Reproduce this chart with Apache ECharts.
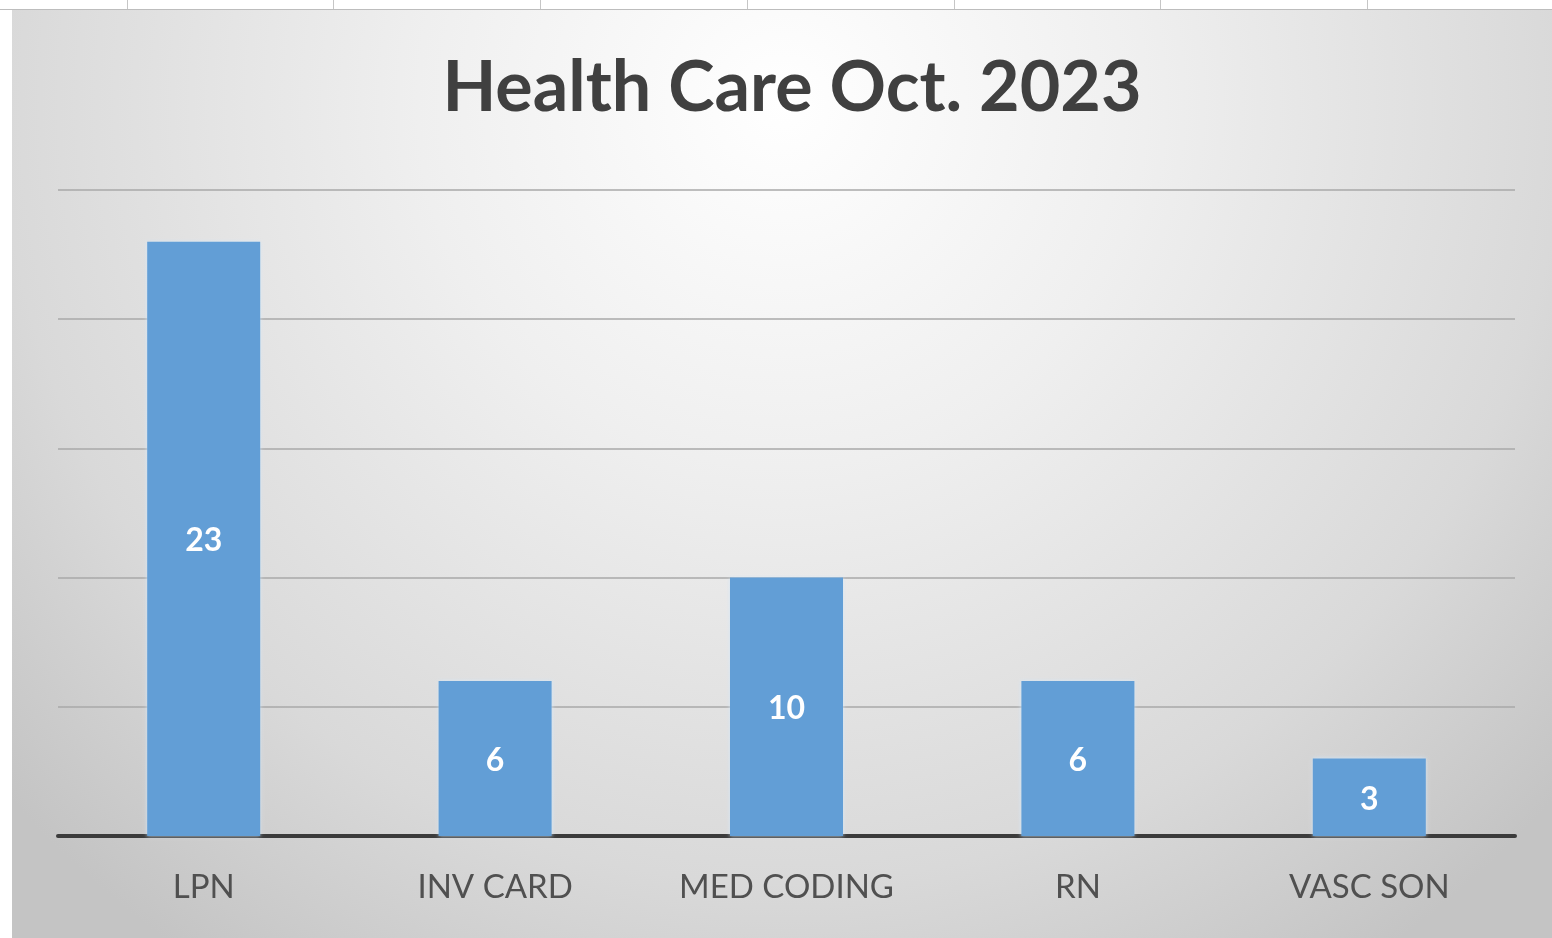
<!DOCTYPE html>
<html>
<head>
<meta charset="utf-8">
<title>Health Care Oct. 2023</title>
<script src="https://cdn.jsdelivr.net/npm/echarts@6/dist/echarts.min.js"></script>
<style>
  html, body { margin: 0; padding: 0; background: #ffffff; }
  #chart { width: 1552px; height: 938px; }
</style>
</head>
<body>
<div id="chart"></div>
<script>
// Program enrolment counts, October 2023
const categories = ['LPN', 'INV CARD', 'MED CODING', 'RN', 'VASC SON'];
const counts = [23, 6, 10, 6, 3];
const titleText = 'Health Care Oct. 2023';

// Value axis range
const axisMin = 0;
const axisMax = 25;
const axisStep = 5;

const chart = echarts.init(document.getElementById('chart'), null, { renderer: 'canvas' });

// Worksheet cell borders peeking above the chart frame
const cellEdges = [127, 333, 540, 747, 954, 1160, 1367];
const sheetLines = cellEdges.map(x => ({
  type: 'line',
  z: -5,
  shape: { x1: x + 0.5, y1: 0, x2: x + 0.5, y2: 9 },
  style: { stroke: '#c6c6c6', lineWidth: 1 }
}));

chart.setOption({
  backgroundColor: '#ffffff',
  animation: false,
  title: {
    text: titleText,
    left: 787,
    textAlign: 'center',
    top: 48,
    textStyle: {
      fontFamily: 'Lato',
      fontWeight: 'bold',
      fontSize: 70,
      color: '#404040'
    }
  },
  graphic: [
    {
      type: 'rect',
      z: -10,
      shape: { x: 12, y: 10, width: 1540, height: 928 },
      style: {
        fill: new echarts.graphic.RadialGradient(0.5, 0.1, 1.12, [
          { offset: 0, color: '#ffffff' },
          { offset: 0.35, color: '#efefef' },
          { offset: 0.75, color: '#d9d9d9' },
          { offset: 1, color: '#c4c4c4' }
        ])
      }
    },
    {
      type: 'line',
      z: -5,
      shape: { x1: 0, y1: 9.5, x2: 1552, y2: 9.5 },
      style: { stroke: '#bdbdbd', lineWidth: 1 }
    }
  ].concat(sheetLines),
  grid: {
    left: 58,
    right: 37,
    top: 190,
    bottom: 102,
    containLabel: false
  },
  xAxis: {
    type: 'category',
    data: categories,
    axisTick: { show: false },
    axisLine: { show: true, lineStyle: { color: '#3b3b3b', width: 4 } },
    axisLabel: {
      margin: 35,
      fontFamily: 'Lato',
      fontSize: 33,
      color: '#505050'
    }
  },
  yAxis: {
    type: 'value',
    min: axisMin,
    max: axisMax,
    interval: axisStep,
    axisLabel: { show: false },
    axisLine: { show: false },
    axisTick: { show: false },
    splitLine: { show: true, lineStyle: { color: '#a8a8a8', width: 1.5 } }
  },
  series: [
    {
      type: 'bar',
      data: counts,
      barWidth: 113,
      itemStyle: {
        color: '#629ed6',
        shadowColor: 'rgba(210, 230, 250, 0.9)',
        shadowBlur: 4
      },
      label: {
        show: true,
        position: 'inside',
        offset: [0, 2],
        fontFamily: 'Lato',
        fontWeight: 'bold',
        fontSize: 32,
        color: '#ffffff'
      }
    }
  ]
});
</script>
</body>
</html>
